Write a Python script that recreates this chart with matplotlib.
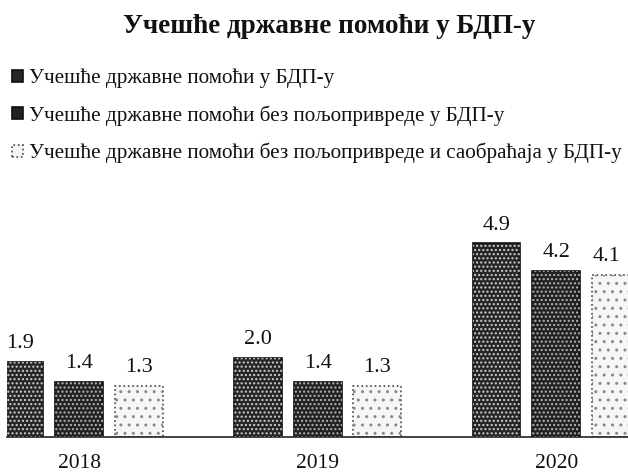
import matplotlib
matplotlib.use("Agg")
import matplotlib.pyplot as plt
import numpy as np

years = ["2018", "2019", "2020"]
series_names = [
    "Учешће државне помоћи у БДП-у",
    "Учешће државне помоћи без пољопривреде у БДП-у",
    "Учешће државне помоћи без пољопривреде и саобраћаја у БДП-у",
]
s1 = [1.9, 2.0, 4.9]
s2 = [1.4, 1.4, 4.2]
s3 = [1.3, 1.3, 4.1]
title = "Учешће државне помоћи у БДП-у"

plt.rcParams['font.family'] = ['Liberation Serif', 'DejaVu Serif']
plt.rcParams['hatch.linewidth'] = 1.0

W, H = 628, 475
fig = plt.figure(figsize=(W / 100, H / 100), dpi=100)

# axes geometry (pixels)
base_px = 437
unit_px = 39.5
ymax = 5.6
ax_left_px = 7
ax_bottom = (H - base_px) / H
ax_height = ymax * unit_px / H
ax = fig.add_axes([ax_left_px / W, ax_bottom, 1 - ax_left_px / W, ax_height])

pitch_px = 238.5
c0_px = 79.2
xl = (ax_left_px - c0_px) / pitch_px
xr = (W - c0_px) / pitch_px
ax.set_xlim(xl, xr)
ax.set_ylim(0, ymax)

x = np.arange(len(years))
bw = 0.2
off = 0.25
faces = ['#262626', '#222222', '#f6f6f6']
hatch_cols = ['#cfcfcf', '#b5b5b5', '#8a8a8a']
edges = ['#111111', '#111111', '#444444']
styles = ['-', '-', ':']
handles = []
for i, (vals, name) in enumerate(zip([s1, s2, s3], series_names)):
    pos = x + (i - 1) * off
    b = ax.bar(pos, vals, bw, color=faces[i], edgecolor=edges[i], linewidth=1.2,
               linestyle=styles[i], label=name, zorder=2)
    ax.bar(pos, vals, bw, facecolor='none', edgecolor=hatch_cols[i], linewidth=0,
           hatch='....' if i < 2 else '..', zorder=3)
    handles.append(b)
    for p, v in zip(pos, vals):
        dx = -7 if p + bw / 2 > xr else 0
        ax.annotate(f"{v:.1f}", (p, v), xytext=(dx, 10), textcoords='offset points',
                    ha='center', va='baseline', fontsize=16, color='#111111')

for s in ['top', 'right', 'left']:
    ax.spines[s].set_visible(False)
ax.spines['bottom'].set_color('#222222')
ax.spines['bottom'].set_linewidth(1.2)
ax.set_yticks([])
ax.set_xticks(x)
ax.set_xticklabels(years, fontsize=15.5, color='#111111')
ax.tick_params(axis='x', length=0, pad=12)

fig.text(329 / W, 1 - 33 / H, title, ha='center', va='baseline',
         fontsize=19.5, fontweight='bold', color='#111111')

leg = ax.legend(handles=handles, labels=series_names, loc='upper left',
                bbox_to_anchor=(12 / W, 1 - 69 / H), bbox_transform=fig.transFigure,
                frameon=False, fontsize=15.2, handlelength=0.5, handleheight=0.5,
                handletextpad=0.3, labelspacing=0.8, borderpad=0, borderaxespad=0)
for t in leg.get_texts():
    t.set_color('#111111')

fig.savefig("out.png", dpi=100)
